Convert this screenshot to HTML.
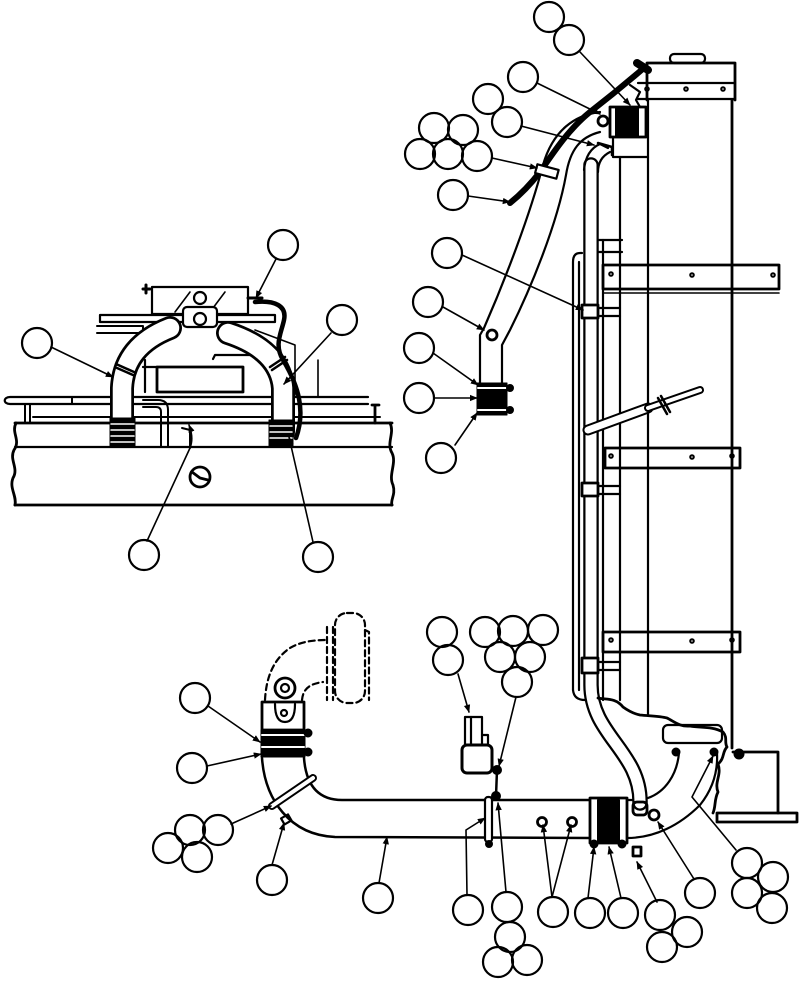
<!DOCTYPE html>
<html><head><meta charset="utf-8"><style>
html,body{margin:0;padding:0;background:#fff;}
svg{display:block;}
</style></head><body>
<svg width="800" height="982" viewBox="0 0 800 982" xmlns="http://www.w3.org/2000/svg" fill="none" stroke="#000" stroke-width="2" stroke-linecap="round" stroke-linejoin="round">
<defs>
<marker id="ar" viewBox="0 0 10 10" refX="9" refY="5" markerWidth="5" markerHeight="5" orient="auto">
<path d="M0,1 L10,5 L0,9 Z" fill="#000" stroke="none"/>
</marker>
</defs>

<!-- INSET -->
<g>
<path d="M15,423 L392,423" stroke-width="2.8"/>
<path d="M15,447 L392,447" stroke-width="2.2"/>
<path d="M15,505 L392,505" stroke-width="2.8"/>
<path d="M16,423 C11,433 21,440 14,450 C9,460 19,468 13,478 C9,488 17,496 15,505" stroke-width="2.8"/>
<path d="M390,423 C395,433 386,443 392,453 C397,463 388,475 393,485 C396,495 390,500 392,505" stroke-width="2.8"/>
<path d="M10,397 L368,397 M10,404 L368,404 M10,397 C3,397 3,404 10,404" stroke-width="2.2"/>
<path d="M25,404 L25,423 M30,404 L30,423 M72,397 L72,404 M33,417 L380,417" stroke-width="2"/>
<path d="M375,405 L375,423 M372,405 L379,405" stroke-width="2.8"/>
<path d="M143,400 L158,400 Q168,400 168,410 L168,447 M143,407 L156,407 Q161,407 161,412 L161,447" stroke-width="2"/>
<rect x="152" y="287" width="96" height="27" stroke-width="2.2"/>
<path d="M143,289 L150,289 M146,285 L146,293" stroke-width="3"/>
<path d="M100,315 L275,315 L275,322 L100,322 Z" stroke-width="2.2"/>
<path d="M97,326 L143,326 L143,337 M97,333 L138,333" stroke-width="2"/>
<path d="M175,312 L190,292 M225,292 L210,312" stroke-width="1.6"/>
<rect x="183" y="307" width="34" height="20" rx="4" fill="#fff" stroke-width="2.2"/>
<circle cx="200" cy="298" r="6" stroke-width="2.2"/>
<circle cx="200" cy="319" r="6" stroke-width="2.2"/>
<path d="M248,298 L262,298" stroke-width="3"/>
<rect x="157" y="367" width="86" height="25" stroke-width="2.8"/>
<path d="M143,367 L157,367 L157,380 M145,360 L145,392" stroke-width="2.2"/>
<path d="M213,359 L215,355 L250,355" stroke-width="2.2"/>
<path d="M318,360 L318,396 M255,330 L295,345 L295,395" stroke-width="1.6"/>
<path d="M122,432 L122,388 Q124,346 170,328" stroke="#000" stroke-width="24"/>
<path d="M122,432 L122,388 Q124,346 170,328" stroke="#fff" stroke-width="18.5"/>
<path d="M283,432 L283,388 Q280,350 228,333" stroke="#000" stroke-width="24"/>
<path d="M283,432 L283,388 Q280,350 228,333" stroke="#fff" stroke-width="18.5"/>
<path d="M116,364 L134,372 M117,368 L133,375" stroke-width="2.5"/>
<path d="M270,367 L285,357 M272,370 L287,360" stroke-width="2.5"/>
<rect x="110" y="418" width="25" height="29" fill="#000" stroke-width="1"/>
<path d="M111,424 L134,424 M111,430 L134,430 M111,436 L134,436 M111,442 L134,442" stroke="#fff" stroke-width="1.5"/>
<rect x="269" y="420" width="24" height="27" fill="#000" stroke-width="1"/>
<path d="M270,426 L292,426 M270,432 L292,432 M270,438 L292,438" stroke="#fff" stroke-width="1.5"/>
<path d="M255,302 C275,300 287,306 284,320 C281,334 274,345 283,360 C298,385 306,410 296,438" stroke-width="4.5"/>
<circle cx="200" cy="477" r="10" stroke-width="2.8"/>
<path d="M192,472 L200,478 L208,480" stroke-width="2.8"/>
<path d="M182,428 L190,430 L190,448" stroke-width="2"/>
</g>

<!-- RADIATOR -->
<g>
<rect x="670" y="54" width="35" height="9" rx="4" stroke-width="2.2"/>
<path d="M647,63 L735,63 L735,100 M647,63 L647,100" stroke-width="2.8"/>
<path d="M638,83 L735,83 M638,99 L735,99" stroke-width="2.2"/>
<circle cx="647" cy="89" r="1.8"/><circle cx="686" cy="89" r="1.8"/><circle cx="723" cy="89" r="1.8"/>
<path d="M732,100 L732,748" stroke-width="2.8"/>
<path d="M648,100 L648,715" stroke-width="2.2"/>
<path d="M613,137 L648,137 M613,157 L648,157 M613,137 L613,157" stroke-width="2.2"/>
<path d="M620,157 L620,700" stroke-width="2.2"/>
<path d="M603,240 L603,700" stroke-width="2.2"/>
<path d="M597,240 L622,240 M597,252 L622,252" stroke-width="2.2"/>
<path d="M573,690 L573,262 Q573,253 580,253 L582,253 M579,690 L579,262" stroke-width="2.2"/>
<path d="M573,690 Q574,700 585,700" stroke-width="2.2"/>
<rect x="603" y="265" width="176" height="24" stroke-width="2.8"/>
<path d="M603,293 L779,293" stroke-width="1.6"/>
<circle cx="611" cy="274" r="1.8"/><circle cx="692" cy="275" r="1.8"/><circle cx="773" cy="275" r="1.8"/>
<rect x="605" y="448" width="135" height="20" stroke-width="2.8"/>
<circle cx="611" cy="456" r="1.8"/><circle cx="692" cy="457" r="1.8"/><circle cx="732" cy="456" r="1.8"/>
<rect x="603" y="632" width="137" height="20" stroke-width="2.8"/>
<circle cx="611" cy="640" r="1.8"/><circle cx="692" cy="641" r="1.8"/><circle cx="732" cy="640" r="1.8"/>
<path d="M591,165 L591,685 C591,735 641,752 640,803" stroke="#000" stroke-width="15.5"/>
<path d="M591,165 L591,685 C591,735 641,752 640,803" stroke="#fff" stroke-width="11"/>
<path d="M584,170 Q586,150 600,144 L608,148 M598,172 Q598,158 610,152" stroke-width="2.2"/>
<path d="M598,143 L612,147 L612,155" stroke-width="2.5"/>
<rect x="582" y="305" width="16" height="13" fill="#fff" stroke-width="2.8"/>
<path d="M598,308 L620,308 M598,316 L620,316" stroke-width="2.2"/>
<rect x="582" y="483" width="16" height="13" fill="#fff" stroke-width="2.8"/>
<path d="M598,486 L620,486 M598,494 L620,494" stroke-width="2.2"/>
<rect x="582" y="658" width="16" height="15" fill="#fff" stroke-width="2.8"/>
<path d="M598,662 L620,662 M598,670 L620,670" stroke-width="2.2"/>
<path d="M588,430 L648,408" stroke="#000" stroke-width="11"/>
<path d="M588,430 L648,408" stroke="#fff" stroke-width="7"/>
<path d="M648,408 L700,390" stroke="#000" stroke-width="8"/>
<path d="M648,408 L700,390" stroke="#fff" stroke-width="4"/>
<path d="M658,398 L667,414 M661,396 L670,412" stroke-width="2.5"/>
<path d="M598,698 C605,700 615,697 623,707 C630,712 635,714 640,715 C650,716 660,716 667,718 C675,722 680,727 690,726 C700,728 712,726 723,732 C728,738 724,742 727,747 C722,752 725,758 718,764 C722,775 714,782 718,792 C714,800 716,806 713,813" stroke-width="2.8"/>
<rect x="663" y="725" width="59" height="18" rx="5" stroke-width="2.2"/>
<circle cx="676" cy="752" r="3.5" fill="#000"/>
<circle cx="714" cy="752" r="3.5" fill="#000"/>
<circle cx="739" cy="754" r="4.5" fill="#000"/>
<path d="M733,752 L778,752 L778,813" stroke-width="2.8"/>
<rect x="717" y="813" width="80" height="9" stroke-width="2.8"/>
</g>

<!-- BIG UPPER PIPE -->
<g>
<path d="M600,112 C575,115 553,130 543,165 C530,215 505,280 484,328 L480,335 L480,385" stroke-width="2.2"/>
<path d="M600,132 C580,137 570,150 566,175 C557,225 530,290 510,330 L502,345 L502,385" stroke-width="2.2"/>
<circle cx="492" cy="335" r="5" stroke-width="2.8"/>
<rect x="477" y="383" width="30" height="32" fill="#000" stroke-width="1"/>
<path d="M478,388 L506,388 M478,410 L506,410" stroke="#fff" stroke-width="2"/>
<circle cx="510" cy="388" r="3" fill="#000"/>
<circle cx="510" cy="410" r="3" fill="#000"/>
</g>

<path d="M645,67 C630,80 612,95 590,112 C570,128 555,150 540,172 C530,185 520,195 510,203" stroke-width="6"/>
<path d="M637,63 L648,70" stroke-width="8"/>
<rect x="536" y="167" width="22" height="9" fill="#fff" stroke-width="2.2" transform="rotate(15 547 171)"/>
<rect x="610" y="107" width="36" height="30" fill="#fff" stroke-width="2.8"/>
<rect x="616" y="108" width="22" height="28" fill="#000"/>
<circle cx="603" cy="121" r="5" stroke-width="2.8"/>
<path d="M630,85 L640,92 L636,100 L640,107" stroke-width="2.2"/>

<!-- LOWER PIPE -->
<g>
<g stroke-dasharray="6,4" stroke-width="2.2">
<path d="M265,700 C266,680 272,660 290,648 C300,642 312,640 327,640"/>
<path d="M302,700 C303,690 308,684 323,682"/>
<path d="M327,627 L327,700 M333,627 L333,700"/>
<rect x="335" y="613" width="30" height="90" rx="12"/>
<path d="M365,630 L369,632 L369,700"/>
</g>
<circle cx="285" cy="688" r="10" stroke-width="2.8"/>
<circle cx="285" cy="688" r="4" stroke-width="2.2"/>
<rect x="262" y="702" width="42" height="28" fill="#fff" stroke-width="2.8"/>
<path d="M275,704 Q275,722 285,722 Q295,722 295,704" stroke-width="2.2"/>
<circle cx="284" cy="713" r="3" stroke-width="2.2"/>
<rect x="261" y="730" width="44" height="27" fill="#000" stroke-width="1"/>
<path d="M262,735 L304,735 M262,747 L304,747" stroke="#fff" stroke-width="2"/>
<circle cx="308" cy="733" r="3.5" fill="#000"/>
<circle cx="308" cy="752" r="3.5" fill="#000"/>
<path d="M262,758 C265,800 290,835 335,837 L590,838" stroke-width="2.5"/>
<path d="M304,758 C306,785 318,800 342,800 L590,800" stroke-width="2.5"/>
<path d="M272,806 L313,778" stroke="#000" stroke-width="8"/>
<path d="M272,806 L313,778" stroke="#fff" stroke-width="4"/>
<rect x="282" y="816" width="8" height="7" stroke-width="2.2" transform="rotate(-30 286 819)"/>
<rect x="485" y="797" width="7" height="45" rx="3" fill="#fff" stroke-width="2.2"/>
<circle cx="489" cy="844" r="3" fill="#000"/>
<rect x="465" y="717" width="17" height="28" stroke-width="2.2"/>
<path d="M471,717 L471,745 M482,735 L488,735 L488,745" stroke-width="2.2"/>
<rect x="462" y="745" width="30" height="28" rx="5" stroke-width="3"/>
<circle cx="497" cy="770" r="4" fill="#000"/>
<path d="M497,770 L496,796" stroke-width="2.5"/>
<circle cx="496" cy="796" r="4" fill="#000"/>
<circle cx="542" cy="822" r="4.5" stroke-width="2.8"/>
<circle cx="572" cy="822" r="4.5" stroke-width="2.8"/>
<rect x="590" y="798" width="37" height="45" fill="#fff" stroke-width="2.8"/>
<rect x="598" y="800" width="21" height="41" fill="#000"/>
<circle cx="594" cy="844" r="3.5" fill="#000"/>
<circle cx="622" cy="844" r="3.5" fill="#000"/>
<path d="M627,838 C655,838 680,825 700,805 C712,790 718,772 717,753" stroke-width="2.2"/>
<path d="M648,798 C665,792 677,775 679,753" stroke-width="2.2"/>
<path d="M627,800 L633,800" stroke-width="2.2"/>
<rect x="633" y="802" width="14" height="13" rx="4" stroke-width="2.8"/>
<circle cx="654" cy="815" r="5" stroke-width="2.8"/>
<rect x="633" y="847" width="8" height="9" stroke-width="2.8"/>
</g>

<!-- LEADER LINES -->
<g stroke-width="1.6" marker-end="url(#ar)">
<path d="M580,52 L630,105"/>
<path d="M537,83 L600,114"/>
<path d="M521,126 L594,145"/>
<path d="M492,158 L537,168"/>
<path d="M468,196 L510,202"/>
<path d="M462,255 L583,310"/>
<path d="M443,307 L484,330"/>
<path d="M433,353 L478,385"/>
<path d="M434,398 L477,398"/>
<path d="M455,445 L477,413"/>
<path d="M276,259 L256,298"/>
<path d="M331,333 L284,384"/>
<path d="M51,347 L113,377"/>
<path d="M147,541 L190,448 Q194,438 189,425"/>
<path d="M313,542 L289,437"/>
<path d="M208,706 L260,742"/>
<path d="M207,766 L261,754"/>
<path d="M231,824 L271,806"/>
<path d="M272,865 L284,823"/>
<path d="M379,883 L387,837"/>
<path d="M458,674 L469,712"/>
<path d="M516,697 L499,766"/>
<path d="M467,895 L466,830 L485,818"/>
<path d="M506,892 L498,803"/>
<path d="M552,897 L543,825"/>
<path d="M552,897 L571,825"/>
<path d="M588,898 L594,847"/>
<path d="M621,898 L609,847"/>
<path d="M657,902 L637,862"/>
<path d="M694,879 L658,822"/>
<path d="M736,850 L692,797 L713,756"/>
</g>

<!-- CALLOUT CIRCLES -->
<g stroke-width="2.2">
<circle cx="549" cy="17" r="15"/>
<circle cx="569" cy="40" r="15"/>
<circle cx="523" cy="77" r="15"/>
<circle cx="488" cy="99" r="15"/>
<circle cx="507" cy="122" r="15"/>
<circle cx="434" cy="128" r="15"/>
<circle cx="463" cy="130" r="15"/>
<circle cx="420" cy="154" r="15"/>
<circle cx="448" cy="154" r="15"/>
<circle cx="477" cy="156" r="15"/>
<circle cx="453" cy="195" r="15"/>
<circle cx="447" cy="253" r="15"/>
<circle cx="428" cy="302" r="15"/>
<circle cx="419" cy="348" r="15"/>
<circle cx="419" cy="398" r="15"/>
<circle cx="441" cy="458" r="15"/>
<circle cx="283" cy="245" r="15"/>
<circle cx="342" cy="320" r="15"/>
<circle cx="37" cy="343" r="15"/>
<circle cx="144" cy="555" r="15"/>
<circle cx="318" cy="557" r="15"/>
<circle cx="195" cy="698" r="15"/>
<circle cx="192" cy="768" r="15"/>
<circle cx="190" cy="830" r="15"/>
<circle cx="218" cy="830" r="15"/>
<circle cx="168" cy="848" r="15"/>
<circle cx="197" cy="857" r="15"/>
<circle cx="272" cy="880" r="15"/>
<circle cx="378" cy="898" r="15"/>
<circle cx="442" cy="632" r="15"/>
<circle cx="448" cy="660" r="15"/>
<circle cx="485" cy="632" r="15"/>
<circle cx="513" cy="631" r="15"/>
<circle cx="543" cy="630" r="15"/>
<circle cx="500" cy="657" r="15"/>
<circle cx="530" cy="657" r="15"/>
<circle cx="517" cy="682" r="15"/>
<circle cx="468" cy="910" r="15"/>
<circle cx="507" cy="907" r="15"/>
<circle cx="510" cy="937" r="15"/>
<circle cx="498" cy="962" r="15"/>
<circle cx="527" cy="960" r="15"/>
<circle cx="553" cy="912" r="15"/>
<circle cx="590" cy="913" r="15"/>
<circle cx="623" cy="913" r="15"/>
<circle cx="660" cy="915" r="15"/>
<circle cx="687" cy="932" r="15"/>
<circle cx="662" cy="947" r="15"/>
<circle cx="700" cy="893" r="15"/>
<circle cx="747" cy="863" r="15"/>
<circle cx="773" cy="877" r="15"/>
<circle cx="747" cy="893" r="15"/>
<circle cx="772" cy="908" r="15"/>
</g>
</svg>
</body></html>
